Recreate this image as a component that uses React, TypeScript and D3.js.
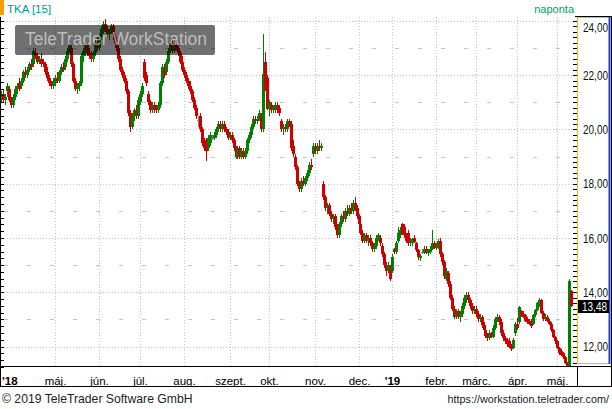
import React from 'react';
import * as d3 from 'd3';

type C = [number, number, number, number]; // open, high, low, close

const mar18: C[] = [[21.2,21.4,21.0,21.3],[21.3,21.5,21.0,21.1],[21.1,21.3,20.9,21.2],[21.4,21.7,21.2,21.6],[21.5,21.6,21.0,21.1],[21.1,21.2,20.8,20.9],[20.9,21.3,20.8,21.2]];
const apr18: C[] = [[21.2,21.6,21.1,21.5],[21.5,21.7,21.3,21.6],[21.7,21.9,21.4,21.5],[21.6,21.9,21.5,21.8],[21.8,22.2,21.7,22.1],[22.1,22.3,21.9,22.0],[22.0,22.3,21.9,22.2],[22.2,22.5,22.1,22.4],[22.4,22.6,22.2,22.3],[22.4,23.0,22.3,22.9],[22.8,23.0,22.6,22.7],[22.7,22.8,22.4,22.5],[22.5,22.7,22.4,22.6],[22.6,22.8,22.3,22.4],[22.5,22.6,22.3,22.4],[22.4,22.5,22.0,22.1],[22.1,22.3,21.8,21.9],[21.9,22.0,21.6,21.7],[21.7,21.8,21.5,21.6],[21.6,21.9,21.5,21.8]];
const may18: C[] = [[21.7,22.0,21.6,21.9],[21.9,22.1,21.7,21.8],[21.8,22.2,21.7,22.1],[22.1,22.4,22.0,22.3],[22.3,22.5,22.1,22.2],[22.3,22.7,22.2,22.6],[22.6,23.0,22.5,22.9],[22.9,23.3,22.8,23.1],[23.0,23.1,22.3,22.4],[22.4,22.5,21.7,21.8],[21.8,21.9,21.4,21.5],[21.5,21.7,21.3,21.6],[21.6,21.8,21.4,21.7],[21.7,22.8,21.6,22.7],[22.7,23.0,22.5,22.9],[22.9,23.2,22.7,23.1],[23.1,23.2,22.7,22.8],[22.8,23.0,22.6,22.7],[22.8,22.9,22.5,22.6],[22.6,22.9,22.5,22.8],[22.8,23.3,22.7,23.2],[23.2,23.4,22.9,23.0]];
const jun18: C[] = [[23.0,23.5,22.9,23.4],[23.4,23.8,23.3,23.7],[23.6,24.0,23.5,23.9],[23.9,24.05,23.6,23.7],[23.7,23.8,23.4,23.5],[23.5,23.7,23.3,23.6],[23.6,23.9,23.5,23.8],[23.8,23.9,23.4,23.5],[23.5,23.6,23.2,23.3],[23.3,23.4,22.9,23.0],[23.0,23.1,22.5,22.6],[22.6,22.7,22.1,22.2],[22.2,22.3,21.9,22.0],[22.0,22.1,21.7,21.8],[21.8,21.9,21.3,21.4],[21.4,21.5,20.5,20.6],[20.6,20.7,19.9,20.1],[20.1,20.6,20.0,20.5],[20.5,20.8,20.3,20.7],[20.7,20.9,20.4,20.5],[20.5,21.2,20.4,21.1]];
const jul18: C[] = [[21.0,21.4,20.9,21.3],[21.3,21.7,21.2,21.6],[22.5,22.6,21.8,21.9],[22.0,22.1,21.6,21.7],[21.3,21.4,20.9,21.0],[21.0,21.1,20.6,20.7],[20.8,21.0,20.6,20.9],[20.9,21.0,20.6,20.7],[20.8,20.9,20.6,20.7],[20.7,21.0,20.6,20.9],[20.9,21.8,20.8,21.7],[21.7,22.4,21.6,22.3],[22.2,22.4,21.9,22.0],[22.1,22.6,22.0,22.5],[22.5,23.0,22.4,22.9],[22.9,23.3,22.8,23.2],[23.2,23.3,22.8,22.9],[22.9,23.2,22.8,23.1],[23.1,23.3,22.9,23.0],[23.0,23.1,22.7,22.8],[22.8,22.9,22.4,22.5],[22.5,22.7,22.1,22.2]];
const aug18: C[] = [[22.2,22.3,21.9,22.0],[22.0,22.1,21.7,21.8],[21.8,21.9,21.5,21.6],[21.6,21.8,21.3,21.4],[21.4,21.5,21.0,21.1],[21.1,21.2,20.7,20.8],[20.8,20.9,20.4,20.5],[20.35,20.5,20.1,20.35],[20.5,20.6,19.9,20.0],[20.0,20.1,19.4,19.5],[19.5,19.7,19.2,19.3],[19.6,19.7,18.85,19.2],[19.3,19.8,19.2,19.7],[19.5,19.9,19.4,19.8],[19.7,19.8,19.6,19.7],[19.7,19.9,19.6,19.8],[19.8,20.1,19.7,20.0],[20.0,20.3,19.9,20.2],[20.2,20.3,19.9,20.0],[20.0,20.3,19.9,20.2],[20.2,20.3,19.9,20.0],[20.0,20.1,19.8,19.9],[19.9,20.0,19.6,19.7]];
const sep18: C[] = [[19.7,19.9,19.6,19.8],[19.8,19.9,19.5,19.6],[19.6,19.7,19.2,19.3],[19.3,19.4,18.9,19.0],[19.0,19.4,18.9,19.3],[19.3,19.4,18.9,19.0],[19.0,19.3,18.9,19.2],[19.2,19.3,18.9,19.0],[19.0,19.3,18.9,19.2],[19.2,19.7,19.1,19.6],[19.6,19.9,19.5,19.8],[19.8,20.2,19.7,20.1],[20.1,20.5,20.0,20.4],[20.4,20.5,20.2,20.3],[20.3,20.5,20.2,20.4],[20.4,20.7,20.3,20.6],[20.5,20.6,19.9,20.0],[20.0,23.5,19.9,22.05],[22.5,22.85,21.4,21.45],[21.9,22.0,20.7,20.75]];
const oct18: C[] = [[20.75,21.1,20.5,21.0],[20.9,21.0,20.6,20.7],[20.7,20.9,20.6,20.8],[20.7,21.0,20.6,20.9],[20.9,21.0,20.6,20.7],[20.8,20.9,20.5,20.6],[20.3,20.4,19.9,20.0],[20.0,20.2,19.8,20.1],[20.1,20.2,19.9,20.0],[20.0,20.4,19.9,20.3],[20.3,20.4,20.1,20.2],[20.2,20.3,19.2,19.3],[19.4,19.6,19.0,19.1],[19.0,19.1,18.5,18.6],[18.6,18.7,17.9,18.0],[18.0,18.1,17.7,17.8],[17.8,18.2,17.7,18.1],[18.1,18.3,17.9,18.0],[18.0,18.3,17.9,18.2],[18.2,18.5,18.1,18.4],[18.4,18.8,18.3,18.7],[18.7,18.9,18.5,18.6],[19.1,19.5,19.0,19.4]];
const nov18: C[] = [[19.3,19.5,19.1,19.2],[19.2,19.5,19.1,19.4],[19.4,19.6,19.2,19.3],[19.3,19.5,19.2,19.4],[18.0,18.1,17.4,17.5],[17.5,17.6,17.0,17.1],[17.1,17.3,16.9,17.2],[17.2,17.3,16.8,16.9],[16.9,17.0,16.6,16.7],[16.7,16.9,16.5,16.8],[16.8,16.9,16.3,16.4],[16.4,16.5,16.0,16.1],[16.1,16.6,16.0,16.5],[16.5,16.9,16.4,16.8],[16.8,17.0,16.6,16.7],[16.7,17.1,16.6,17.0],[17.0,17.2,16.8,16.9],[16.9,17.2,16.8,17.1],[17.1,17.3,16.9,17.0],[17.0,17.4,16.9,17.3],[17.3,17.5,17.0,17.1],[17.1,17.2,16.7,16.8]];
const dec18: C[] = [[16.8,16.9,16.4,16.5],[16.5,16.6,16.1,16.2],[16.2,16.3,15.8,15.9],[15.9,16.2,15.8,16.1],[16.1,16.2,15.8,15.9],[15.9,16.1,15.7,16.0],[16.0,16.1,15.7,15.8],[15.8,15.9,15.5,15.6],[15.6,15.8,15.5,15.7],[15.7,16.1,15.6,16.0],[16.0,16.2,15.9,16.1],[16.0,16.1,15.7,15.8],[15.7,15.8,15.3,15.4],[15.4,15.5,14.9,15.0],[15.0,15.1,14.6,14.8],[14.8,15.1,14.7,15.0],[14.9,15.0,14.4,14.5]];
const jan19: C[] = [[14.8,15.4,14.7,15.3],[15.6,15.65,15.4,15.5],[15.5,15.9,15.4,15.8],[15.9,16.4,15.8,16.2],[16.1,16.4,16.0,16.3],[16.5,16.55,16.1,16.15],[16.4,16.5,16.0,16.1],[16.1,16.2,15.8,15.9],[16.2,16.3,15.7,15.8],[15.8,16.0,15.7,15.9],[15.8,16.0,15.7,15.95],[16.0,16.1,15.8,15.85],[15.8,15.85,15.5,15.55],[15.55,15.6,15.2,15.3],[15.25,15.4,15.15,15.35],[15.5,15.6,15.4,15.5],[15.45,15.7,15.4,15.6],[15.6,15.7,15.4,15.45],[15.45,15.6,15.35,15.55],[15.5,15.7,15.4,15.6],[15.6,16.3,15.55,15.8],[15.8,15.9,15.6,15.65]];
const feb19: C[] = [[15.65,15.8,15.55,15.7],[15.7,15.95,15.6,15.9],[15.9,16.0,15.3,15.4],[15.4,15.5,15.0,15.1],[15.1,15.2,14.5,14.6],[14.5,14.9,14.4,14.8],[14.7,14.8,14.2,14.3],[14.3,14.4,13.7,13.8],[13.8,13.9,13.3,13.4],[13.4,13.5,13.0,13.1],[13.1,13.4,13.0,13.3],[13.3,13.4,13.0,13.1],[13.1,13.3,12.9,13.2],[13.2,13.6,13.1,13.5],[13.5,13.9,13.4,13.8],[13.7,14.0,13.6,13.9],[13.9,14.0,13.6,13.7],[13.7,13.8,13.4,13.5],[13.5,13.6,13.2,13.3],[13.3,13.5,13.2,13.4]];
const mar19: C[] = [[13.4,13.5,13.1,13.2],[13.2,13.3,12.9,13.0],[13.0,13.2,12.9,13.1],[13.1,13.15,12.7,12.8],[12.8,12.9,12.5,12.6],[12.6,12.7,12.3,12.4],[12.4,12.5,12.2,12.3],[12.3,12.6,12.25,12.5],[12.5,12.55,12.3,12.35],[12.35,12.8,12.3,12.7],[12.7,13.1,12.6,13.0],[13.0,13.2,12.9,13.1],[13.1,13.15,12.8,12.9],[12.9,13.0,12.4,12.5],[12.5,12.6,12.2,12.3],[12.3,12.4,12.1,12.2],[12.25,12.3,12.0,12.1],[12.2,12.3,11.95,12.0],[12.0,12.1,11.85,11.9],[11.95,12.3,11.9,12.25],[12.5,12.9,12.4,12.85]];
const apr19: C[] = [[12.85,13.05,12.6,12.7],[12.9,13.5,12.85,13.45],[13.3,13.35,13.1,13.15],[13.2,13.3,13.05,13.1],[13.15,13.2,12.9,12.95],[13.0,13.1,12.85,12.9],[12.95,13.0,12.8,12.85],[12.9,13.0,12.7,12.75],[12.85,13.2,12.8,13.15],[13.15,13.4,13.1,13.35],[13.35,13.65,13.3,13.6],[13.6,13.8,13.45,13.7],[13.7,13.75,13.2,13.25],[13.25,13.3,12.95,13.0],[13.0,13.2,12.95,13.1],[13.1,13.15,12.9,12.95],[12.95,13.0,12.8,12.85],[12.85,12.9,12.55,12.6],[12.6,12.65,12.3,12.35],[12.35,12.4,12.1,12.2]];
const may19: C[] = [[12.2,12.25,11.9,11.95],[11.95,12.0,11.7,11.75],[11.85,11.9,11.65,11.7],[11.75,11.8,11.55,11.6],[11.6,11.65,11.35,11.4],[11.4,11.45,11.25,11.28],[11.3,14.5,11.25,14.4],[14.05,14.1,13.45,13.48]];

const monthlyCandles: C[][] = [mar18, apr18, may18, jun18, jul18, aug18, sep18, oct18, nov18, dec18, jan19, feb19, mar19, apr19, may19];
const holidays = ['2018-03-30', '2018-04-02', '2018-05-01', '2018-12-24', '2018-12-25', '2018-12-26', '2018-12-31', '2019-01-01', '2019-04-19', '2019-04-22', '2019-05-01'];
const monthLabels = ["'18", 'máj.', 'jún.', 'júl.', 'aug.', 'szept.', 'okt.', 'nov.', 'dec.', "'19", 'febr.', 'márc.', 'ápr.', 'máj.'];
const yLabelValues = [12, 14, 16, 18, 20, 22, 24];
const yMinorValues = [13, 15, 17, 19, 21, 23];
const lastPrice = 13.48;
const symbolLabel = 'TKA [15]';
const periodLabel = 'naponta';
const watermarkText = 'TeleTrader WorkStation';
const copyrightText = '© 2019 TeleTrader Software GmbH';
const urlText = 'https://workstation.teletrader.com/';

const FONT = '"Liberation Sans", Arial, sans-serif';
const PLOT_TOP = 17;
const PLOT_BOTTOM = 366;
const PLOT_RIGHT = 577;
const GREEN = '#008000';
const RED = '#cc0000';
const GRID = '#c4c4c4';

const fmtNum = (v: number) => d3.format('.2f')(v).replace('.', ',');

export default function App() {
  const fmt = d3.timeFormat('%Y-%m-%d');
  const days = d3.timeDay
    .range(new Date(2018, 2, 21), new Date(2019, 4, 14))
    .filter((d) => d.getDay() !== 0 && d.getDay() !== 6 && !holidays.includes(fmt(d)));
  const ohlc = monthlyCandles.flat();
  const n = Math.min(days.length, ohlc.length);
  const candles = d3.range(n).map((i) => ({ date: days[i], o: ohlc[i][0], h: ohlc[i][1], l: ohlc[i][2], c: ohlc[i][3] }));

  const x = d3.scaleLinear().domain([0, n - 1]).range([2.4, 571.8]);
  const y = d3.scaleLinear().domain([12, 24]).range([346.6, 20.8]);

  const monthStarts: number[] = [];
  for (let i = 1; i < n; i++) {
    if (candles[i].date.getMonth() !== candles[i - 1].date.getMonth()) monthStarts.push(i);
  }
  const gridMonths = monthStarts.slice(1); // May 2018 ... May 2019
  const gridX = gridMonths.map((i) => Math.round(x(i) - 1) + 0.5);

  const leftTicks = d3.range(11.25, 24.3, 0.25);
  const rightTicks = d3.range(11.2, 24.3, 0.2);

  return (
    <svg width={612} height={409} style={{ position: 'fixed', left: 0, top: 0, display: 'block', background: '#fff' }} fontFamily={FONT}>
      <defs>
        <clipPath id="plotClip">
          <rect x={1} y={PLOT_TOP} width={PLOT_RIGHT - 1} height={PLOT_BOTTOM - PLOT_TOP} />
        </clipPath>
      </defs>
      <rect x={0} y={0} width={612} height={409} fill="#fff" />

      {/* horizontal grid */}
      {yLabelValues.map((v) => (
        <line key={'hg' + v} x1={1} x2={PLOT_RIGHT} y1={Math.round(y(v)) + 0.5} y2={Math.round(y(v)) + 0.5} stroke={GRID} strokeDasharray="1,2" />
      ))}
      {yMinorValues.map((v) => (
        <line key={'hm' + v} x1={4} x2={PLOT_RIGHT} y1={Math.round(y(v)) + 0.5} y2={Math.round(y(v)) + 0.5} stroke={GRID} strokeDasharray="4,19" />
      ))}
      {/* vertical grid */}
      {gridX.map((gx, k) => (
        <line key={'vg' + k} x1={gx} x2={gx} y1={PLOT_TOP} y2={PLOT_BOTTOM} stroke={GRID} strokeDasharray="1,2" />
      ))}

      {/* candles */}
      <g clipPath="url(#plotClip)" shapeRendering="crispEdges">
        {candles.map((d, i) => {
          const cx = Math.round(x(i));
          const flat = Math.abs(d.o - d.c) < 1e-9;
          const color = flat ? '#808080' : d.c > d.o ? GREEN : RED;
          const top = y(Math.max(d.o, d.c));
          const bot = y(Math.min(d.o, d.c));
          return (
            <g key={i}>
              <line x1={cx - 0.5} x2={cx - 0.5} y1={y(d.h)} y2={y(d.l)} stroke={color} strokeWidth={1} />
              {flat ? (
                <line x1={cx - 2} x2={cx + 1} y1={Math.round(top) + 0.5} y2={Math.round(top) + 0.5} stroke={color} />
              ) : (
                <rect x={cx - 2} y={top} width={3} height={Math.max(1, bot - top)} fill={color} />
              )}
            </g>
          );
        })}
      </g>

      {/* watermark */}
      <rect x={15} y={25} width={200} height={30} rx={2} fill="rgba(0,0,0,0.56)" />
      <text x={25} y={45} fontSize={17.5} fill="rgba(255,255,255,0.55)" textLength={182} lengthAdjust="spacingAndGlyphs">{watermarkText}</text>

      {/* left ticks */}
      {leftTicks.map((v, k) => (
        <line key={'lt' + k} x1={1} x2={4} y1={Math.round(y(v)) + 0.5} y2={Math.round(y(v)) + 0.5} stroke="#000" />
      ))}
      {/* right ticks */}
      {rightTicks.filter((v) => y(v) > PLOT_TOP + 1 && y(v) < PLOT_BOTTOM - 1).map((v, k) => (
        <line key={'rt' + k} x1={573} x2={577} y1={Math.round(y(v)) + 0.5} y2={Math.round(y(v)) + 0.5} stroke="#000" />
      ))}

      {/* header */}
      <rect x={0} y={0} width={4} height={15} fill="#f5a000" />
      <text x={7} y={13} fontSize={11.5} fill="#00998f">{symbolLabel}</text>
      <text x={574} y={13} fontSize={11} fill="#00a060" textAnchor="end">{periodLabel}</text>

      {/* frame */}
      <line x1={0.5} x2={0.5} y1={PLOT_TOP} y2={387} stroke="#000" />
      <line x1={575} x2={612} y1={16.5} y2={16.5} stroke="#000" />
      <line x1={611.5} x2={611.5} y1={16} y2={387} stroke="#000" />

      {/* y axis panel */}
      <rect x={577.5} y={17.5} width={32} height={346} fill="#fff" stroke="#f0c000" />
      <line x1={609.5} x2={609.5} y1={17} y2={364} stroke="#1f3fd0" strokeWidth={2} />
      {yLabelValues.map((v) => {
        const yy = Math.max(y(v), 27);
        return (
          <text key={'yl' + v} x={583} y={yy + 4.5} fontSize={12} fill="#111" textLength={25} lengthAdjust="spacingAndGlyphs">{fmtNum(v)}</text>
        );
      })}
      <rect x={578} y={300} width={31} height={13} fill="#000" />
      <text x={582} y={310.5} fontSize={12} fill="#fff" textLength={25} lengthAdjust="spacingAndGlyphs">{fmtNum(lastPrice)}</text>

      {/* x axis band */}
      <line x1={0} x2={612} y1={366.5} y2={366.5} stroke="#000" />
      <line x1={0} x2={612} y1={386.5} y2={386.5} stroke="#000" />
      <line x1={577.5} x2={577.5} y1={366} y2={387} stroke="#000" />
      <text x={2} y={385} fontSize={11.5} fontWeight="bold" fill="#000">{monthLabels[0]}</text>
      {gridX.map((gx, k) => {
        const lab = monthLabels[k + 1];
        if (!lab) return null;
        const bold = lab.startsWith("'");
        return (
          <text key={'xl' + k} x={gx} y={385} fontSize={11.5} fontWeight={bold ? 'bold' : 'normal'} textAnchor="middle" fill="#000">{lab}</text>
        );
      })}

      {/* footer */}
      <text x={2} y={403} fontSize={12.2} fill="#222">{copyrightText}</text>
      <text x={609} y={403} fontSize={10.8} fill="#222" textAnchor="end">{urlText}</text>
    </svg>
  );
}
